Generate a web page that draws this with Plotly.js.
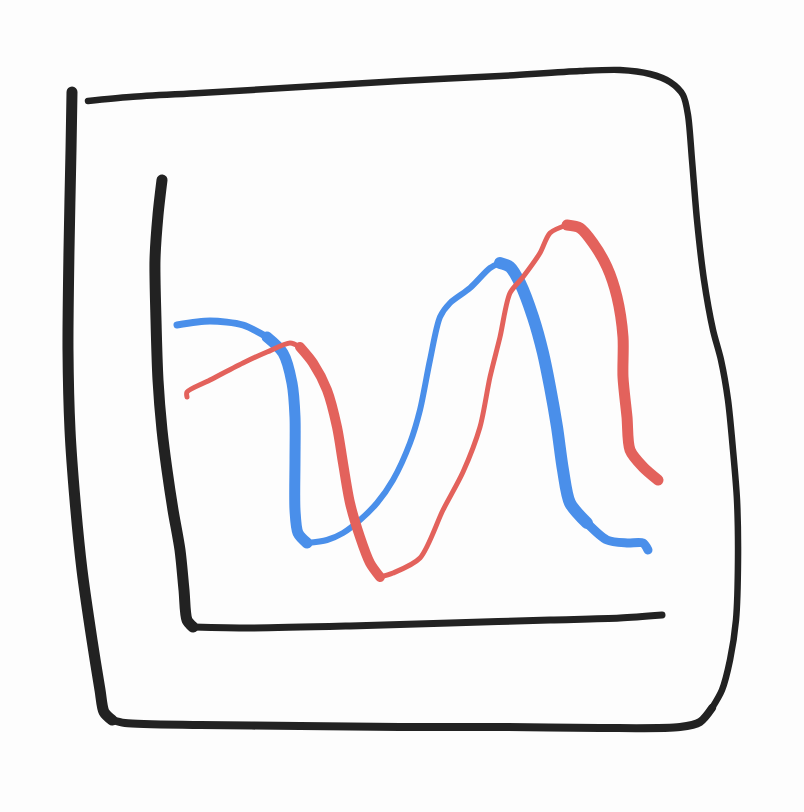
<!DOCTYPE html>
<html>
<head>
<meta charset="utf-8">
<script src="https://cdn.plot.ly/plotly-3.0.1.min.js"></script>
<style>
  html, body { margin:0; padding:0; background:#fdfdfd; }
  #chart .js-line { stroke-linecap: round; stroke-linejoin: round; }
</style>
</head>
<body>
<div id="chart"></div>
<script>
// hand-drawn frame, one stroke: down the left, along the bottom, up the right, back along the top
const frameX = [72, 71, 69, 68, 70, 75, 82, 92, 100, 104, 112, 125, 200, 300, 400, 500, 600, 680, 700, 712, 722, 730, 736, 738, 737, 733, 728, 721, 713, 704, 697, 692, 688, 683, 670, 650, 620, 580, 500, 400, 300, 200, 130, 88];
const frameY = [92, 150, 250, 350, 430, 500, 570, 640, 690, 712, 720, 723, 725, 726, 727, 727, 728, 727, 722, 708, 690, 660, 620, 560, 500, 450, 400, 360, 330, 280, 220, 160, 115, 95, 82, 74, 70, 71, 76, 81, 87, 93, 97, 101];

// inner axes (y axis then x axis)
const axisX = [162, 158, 155, 156, 158, 162, 167, 173, 180, 184, 187, 193, 250, 350, 450, 550, 620, 662];
const axisY = [180, 215, 260, 320, 380, 430, 470, 510, 550, 590, 620, 627, 628, 626, 623, 620, 618, 615];

// series
const blueX = [177, 210, 243, 267, 283, 292, 295, 295, 295, 298, 307, 327, 343, 360, 377, 393, 410, 420, 430, 440, 450, 470, 490, 500, 510, 520, 533, 543, 550, 557, 563, 570, 587, 607, 627, 643, 648];
const blueY = [325, 321, 325, 337, 353, 383, 417, 460, 510, 533, 543, 540, 533, 520, 503, 480, 443, 410, 360, 317, 303, 288, 268, 263, 267, 283, 317, 353, 387, 427, 470, 503, 523, 540, 543, 543, 550];

const redX = [187, 187, 210, 243, 267, 290, 300, 313, 327, 337, 343, 350, 360, 370, 380, 393, 420, 443, 463, 480, 490, 500, 510, 523, 540, 550, 567, 580, 593, 607, 617, 623, 623, 627, 630, 643, 658];
const redY = [397, 392, 380, 363, 352, 343, 347, 363, 390, 427, 463, 503, 537, 563, 577, 573, 558, 510, 472, 427, 377, 337, 293, 277, 253, 233, 225, 228, 243, 267, 297, 337, 377, 417, 450, 467, 480];

const INK = '#222222', BLUE = '#4a8fea', RED = '#e3625c';

// pen pressure: [from index, to index, width]
const frameStrokes = [[0, 10, 11], [10, 19, 8], [19, 43, 6.5]];
const axisStrokes = [[0, 11, 11], [11, 17, 7]];
const blueStrokes = [[0, 3, 7], [3, 10, 11], [10, 23, 6], [23, 32, 12], [32, 36, 9]];
const redStrokes = [[0, 6, 5], [6, 14, 10], [14, 26, 5], [26, 36, 11]];

function strokes(xs, ys, spec, color, name) {
  return spec.map(([a, b, w]) => ({
    type:'scatter', mode:'lines', name,
    x: xs.slice(a, b + 1), y: ys.slice(a, b + 1),
    line:{color, width:w, shape:'spline', smoothing:0.8},
    hoverinfo:'skip',
  }));
}

const traces = [
  ...strokes(frameX, frameY, frameStrokes, INK, 'frame'),
  ...strokes(axisX, axisY, axisStrokes, INK, 'axes'),
  ...strokes(blueX, blueY, blueStrokes, BLUE, 'blue'),
  ...strokes(redX, redY, redStrokes, RED, 'red'),
];

Plotly.newPlot('chart', traces, {
  width:804, height:812, margin:{l:0, r:0, t:0, b:0},
  paper_bgcolor:'#fdfdfd', plot_bgcolor:'#fdfdfd', showlegend:false,
  xaxis:{range:[0, 804], visible:false, fixedrange:true},
  yaxis:{range:[812, 0], visible:false, fixedrange:true},
}, {displayModeBar:false, staticPlot:true});
</script>
</body>
</html>
